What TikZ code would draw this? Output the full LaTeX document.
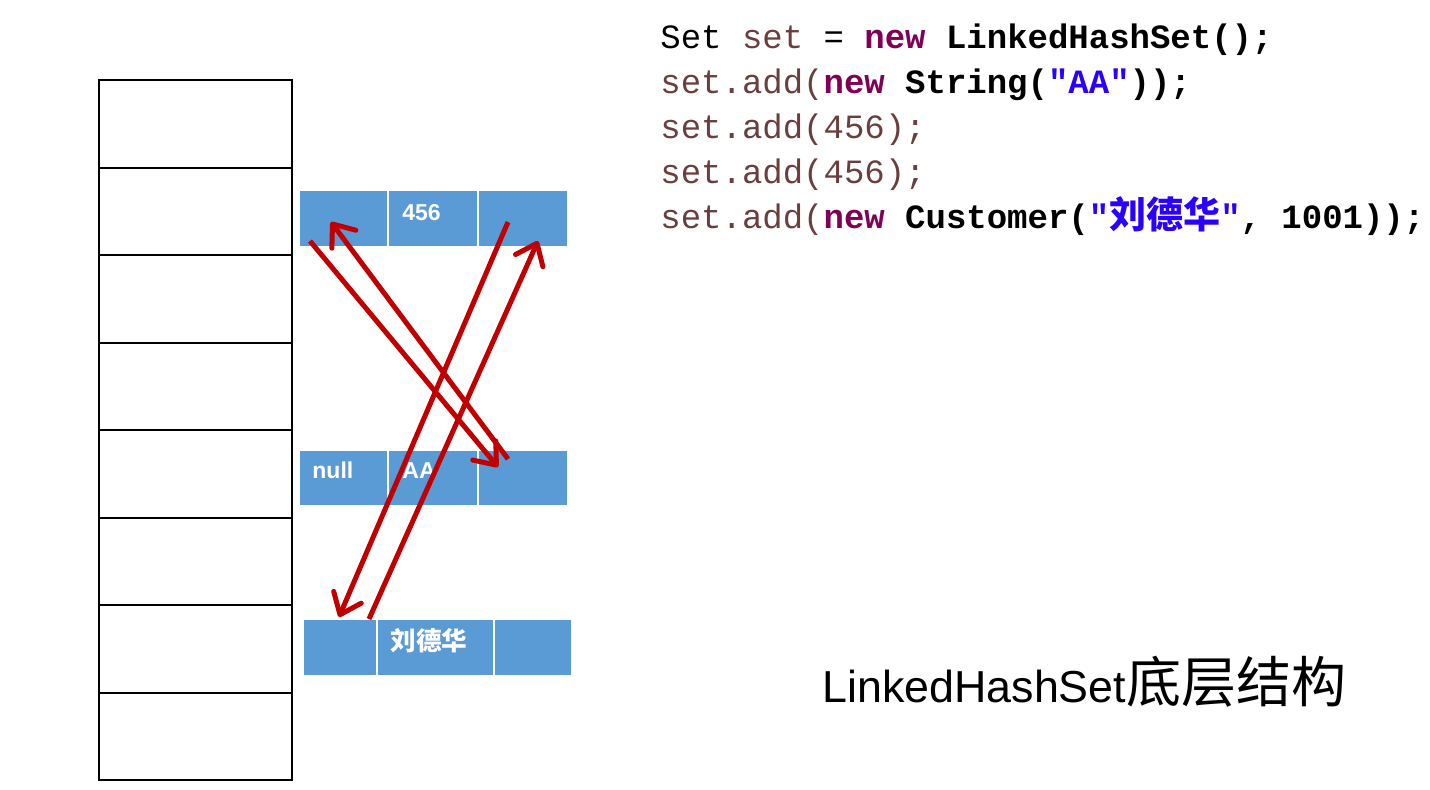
\documentclass[tikz,border=0pt]{standalone}
\usepackage{fontspec}
\setmainfont{Liberation Sans}
\setmonofont{Liberation Mono}
\newfontfamily\cjk{Noto Sans CJK SC}
\usetikzlibrary{fit,arrows.meta}
\definecolor{cellblue}{HTML}{5B9BD5}
\definecolor{arrowred}{HTML}{C00000}
\definecolor{kw}{HTML}{7F0055}
\definecolor{var}{HTML}{6A3E3E}
\definecolor{str}{HTML}{2A00FF}
\tikzset{
  tcell/.style={draw=black, line width=1pt, inner sep=0pt},
  bcell/.style={fill=cellblue, inner sep=0pt},
  btext/.style={anchor=base west, inner sep=0pt, text=white, font=\fontsize{11.5}{13}\selectfont\bfseries},
  link/.style={draw=arrowred, line width=2.5pt, -{Straight Barb[length=9.5pt,width=15pt,line width=2.5pt,round]}},
  code/.style={anchor=base west, inner sep=0pt, font=\ttfamily\fontsize{17}{20}\selectfont},
}
\begin{document}
\begin{tikzpicture}[x=0.5pt,y=-0.5pt]
\useasboundingbox (0,0) rectangle (1430,789);
% hash table
\foreach \i/\a/\b in {1/80/168,2/168/255,3/255/343,4/343/430,5/430/518,6/518/605,7/605/693,8/693/780}{
  \node[tcell, fit={(99,\a)(292,\b)}] (t\i) {};
}
% row 1
\node[bcell, fit={(300,191)(387,246)}] (a1) {};
\node[bcell, fit={(389,191)(477,246)}] (a2) {};
\node[bcell, fit={(479,191)(567,246)}] (a3) {};
% row 2
\node[bcell, fit={(300,451)(387,505)}] (b1) {};
\node[bcell, fit={(389,451)(477,505)}] (b2) {};
\node[bcell, fit={(479,451)(567,505)}] (b3) {};
% row 3
\node[bcell, fit={(304,620)(376,675)}] (c1) {};
\node[bcell, fit={(378,620)(493,675)}] (c2) {};
\node[bcell, fit={(495,620)(571,675)}] (c3) {};
% cell texts
\node[btext] (l456) at (402,220) {456};
\node[btext] (lnull) at (312,478) {null};
\node[btext] (laa) at (402,478) {AA};
\node[btext, font=\cjk\fontsize{12.8}{14}\selectfont\bfseries] (lldh) at (390,650) {刘德华};
% arrow end points
\coordinate (p1) at (310,241);
\coordinate (p2) at (498,467);
\coordinate (p3) at (508,459);
\coordinate (p4) at (331,222);
\coordinate (q1) at (508,222);
\coordinate (q2) at (339,617);
\coordinate (q3) at (369,619);
\coordinate (q4) at (538,241);
\draw[link] (p1) -- (p2);
\draw[link] (p3) -- (p4);
\draw[link] (q1) -- (q2);
\draw[link] (q3) -- (q4);
% code
\node[code] (code1) at (660,48) {Set \textcolor{var}{set} = \textcolor{kw}{\bfseries new} \textbf{LinkedHashSet();}};
\node[code] (code2) at (660,93) {\textcolor{var}{set.add(}\textcolor{kw}{\bfseries new} \textbf{String(\textcolor{str}{"AA"}));}};
\node[code] (code3) at (660,138) {\textcolor{var}{set.add(456);}};
\node[code] (code4) at (660,183) {\textcolor{var}{set.add(456);}};
\node[code] (code5) at (660,228) {\textcolor{var}{set.add(}\textcolor{kw}{\bfseries new} \textbf{Customer(\textcolor{str}{"{\cjk\bfseries\fontsize{18.5}{20}\selectfont 刘德华}"}, 1001));}};
% caption
\node[anchor=base west, inner sep=0pt, font=\fontsize{22.4}{26}\selectfont] (cap) at (822,702) {LinkedHashSet{\cjk\fontsize{27.5}{30}\selectfont 底层结构}};
\end{tikzpicture}
\end{document}
